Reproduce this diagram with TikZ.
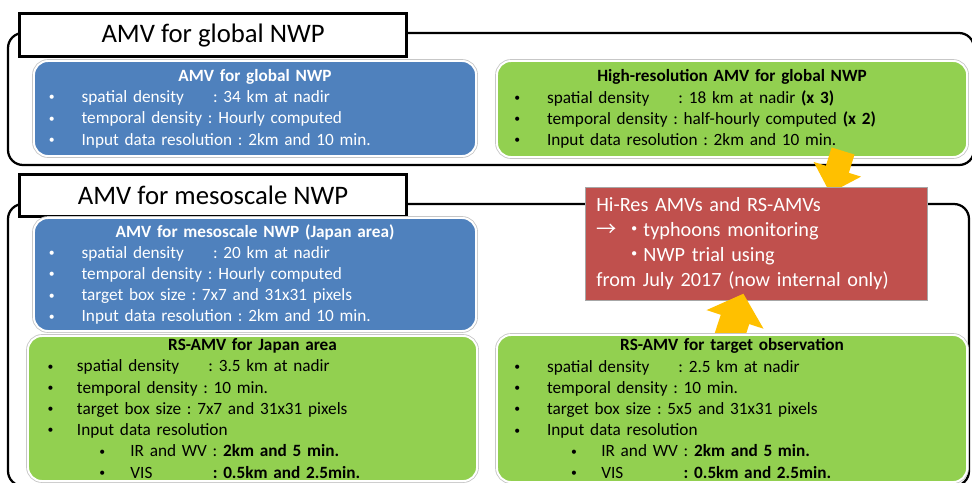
\documentclass[tikz,border=0pt]{standalone}
\usepackage{fontspec}
\setmainfont{Carlito}
\newfontfamily\cjk{Noto Sans CJK JP}
\usetikzlibrary{calc}
\frenchspacing

\definecolor{amvblue}{HTML}{4F81BD}
\definecolor{amvgreen}{HTML}{92D050}
\definecolor{amvred}{HTML}{C0504D}
\definecolor{amvyellow}{HTML}{FFC000}

\newcommand{\bul}[1][2em]{\makebox[#1][l]{\hspace*{.1em}\raisebox{.1em}{\scalebox{0.68}{•}}}}
\newcommand{\subbul}[2]{\hspace*{#1}\bul[#2]}
\newcommand{\spd}{\rlap{spatial density}\phantom{temporal density}\hspace{.3em} }
% block arrow: start, tip, shaft half width, head half width, head length
\newcommand{\yellowarrow}[5]{%
  \coordinate (ah) at ($(#2)!#5!(#1)$);
  \fill[amvyellow] ($(#1)!#3!90:(#2)$) -- ($(ah)!#3!90:(#2)$) -- ($(ah)!#4!90:(#2)$)
    -- (#2) -- ($(ah)!#4!-90:(#2)$) -- ($(ah)!#3!-90:(#2)$) -- ($(#1)!#3!-90:(#2)$) -- cycle;}

\begin{document}
\begin{tikzpicture}[x=0.025cm,y=-0.025cm,
  outerframe/.style={draw=black,line width=1.6pt,rounded corners=0.375cm},
  titlebox/.style={draw=black,line width=2.2pt,fill=white,anchor=north west,
    minimum width=9.675cm,font=\fontsize{19}{22}\selectfont},
  infobox/.style={rounded corners=0.35cm,draw=white,line width=1.4pt,
    preaction={draw=black!22,line width=2.6pt},anchor=north west,align=left,
    inner ysep=1pt,font=\fontsize{12.25}{15.1}\selectfont},
  bluebox/.style={infobox,fill=amvblue,text=white},
  greenbox/.style={infobox,fill=amvgreen,text=black}]
\clip (0,0) rectangle (972,482);

% frames
\draw[outerframe] (8,33) rectangle (974,165);
\draw[outerframe] (8,204) rectangle (969,486);
\node[titlebox,minimum height=1.075cm] (globaltitle) at (18,12) {AMV for global NWP};
\node[titlebox,minimum height=1.05cm] (mesotitle) at (18,173) {AMV for mesoscale NWP};

% global NWP
\node[bluebox,minimum width=11.05cm,minimum height=2.375cm,inner xsep=0.33cm,text width=10.39cm]
  (globalamv) at (33,60) {\makebox[\linewidth]{\bfseries AMV for global NWP}\\
  \bul\spd: 34 km at nadir\\
  \bul temporal density : Hourly computed\\
  \bul Input data resolution : 2km and 10 min.};
\node[greenbox,minimum width=11.75cm,minimum height=2.4cm,inner xsep=0.39cm,text width=10.97cm]
  (hires) at (496,60) {\makebox[\linewidth]{\bfseries High-resolution AMV for global NWP}\\
  \bul\spd: 18 km at nadir \textbf{(x 3)}\\
  \bul temporal density : half-hourly computed \textbf{(x 2)}\\
  \bul Input data resolution : 2km and 10 min.};

% mesoscale NWP
\node[bluebox,minimum width=11.05cm,minimum height=2.825cm,inner xsep=0.33cm,text width=10.39cm]
  (mesoamv) at (33,217) {\makebox[\linewidth]{\bfseries AMV for mesoscale NWP (Japan area)}\\
  \bul\spd: 20 km at nadir\\
  \bul temporal density : Hourly computed\\
  \bul target box size : 7x7 and 31x31 pixels\\
  \bul Input data resolution : 2km and 10 min.};
\node[greenbox,minimum width=11.225cm,minimum height=3.625cm,inner xsep=0.45cm,text width=10.325cm]
  (rsjapan) at (27,335) {\makebox[\linewidth]{\bfseries RS-AMV for Japan area}\\
  \bul[1.8em]\spd: 3.5 km at nadir\\
  \bul[1.8em]temporal density : 10 min.\\
  \bul[1.8em]target box size : 7x7 and 31x31 pixels\\
  \bul[1.8em]Input data resolution\\
  \subbul{3em}{1.9em}IR and WV : \textbf{2km and 5 min.}\\
  \subbul{3em}{1.9em}\rlap{VIS}\phantom{IR and WV} \textbf{: 0.5km and 2.5min.}};

\coordinate (a1s) at ($(hires.south)+(111,-7)$);
\coordinate (a1e) at ($(hires.south)+(98,35)$);
\yellowarrow{a1s}{a1e}{0.3cm}{0.62cm}{0.62cm}

\node[draw=black!35,line width=0.5pt,fill=amvred,text=white,anchor=north west,align=left,
  minimum width=8.55cm,minimum height=2.825cm,inner xsep=0.275cm,text width=8cm,
  font=\fontsize{14.4}{17.7}\selectfont] (plan) at (585,187)
  {Hi-Res AMVs and RS-AMVs\\
  \makebox[21pt][l]{\cjk →}\makebox[12.5pt][c]{\cjk ・}typhoons monitoring\\
  \hspace*{21pt}\makebox[12.5pt][c]{\cjk ・}NWP trial using\\
  from July 2017 (now internal only)};

\coordinate (a2s) at ($(plan.south)+(-30,45)$);
\coordinate (a2e) at ($(plan.south)+(-13,-7)$);
\yellowarrow{a2s}{a2e}{0.375cm}{0.75cm}{0.675cm}

\node[greenbox,minimum width=11.75cm,minimum height=3.675cm,inner xsep=0.39cm,text width=10.97cm]
  (rstarget) at (496,334) {\makebox[\linewidth]{\bfseries RS-AMV for target observation}\\
  \bul\spd: 2.5 km at nadir\\
  \bul temporal density : 10 min.\\
  \bul target box size : 5x5 and 31x31 pixels\\
  \bul Input data resolution\\
  \subbul{3.3em}{1.85em}IR and WV : \textbf{2km and 5 min.}\\
  \subbul{3.3em}{1.85em}\rlap{VIS}\phantom{IR and WV} \textbf{: 0.5km and 2.5min.}};
\end{tikzpicture}
\end{document}
